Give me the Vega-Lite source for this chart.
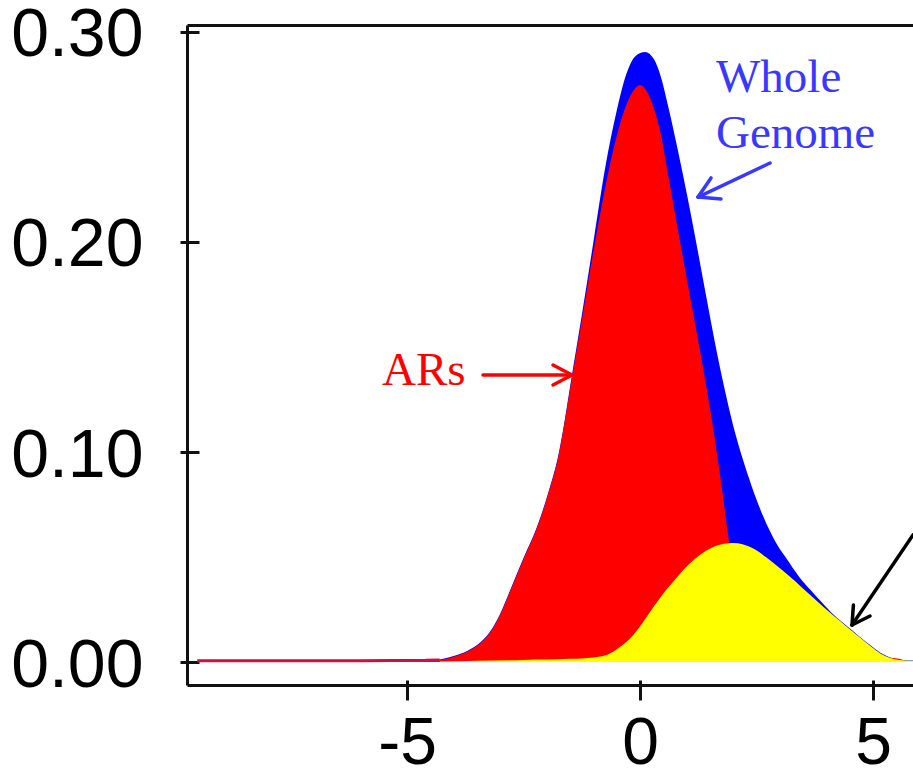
{
  "$schema": "https://vega.github.io/schema/vega-lite/v6.json",
  "width": 726,
  "height": 660,
  "autosize": {"type": "none"},
  "padding": {"left": 187, "top": 25, "right": 0, "bottom": 86},
  "background": "white",
  "config": {"view": {"stroke": null}},
  "datasets": {
    "curves": [
      {"series": "Whole Genome", "x": -9.5, "y": 0.0006},
      {"series": "Whole Genome", "x": -6.0, "y": 0.0006},
      {"series": "Whole Genome", "x": -4.6, "y": 0.0009},
      {"series": "Whole Genome", "x": -4.3, "y": 0.0012},
      {"series": "Whole Genome", "x": -4.0, "y": 0.0028},
      {"series": "Whole Genome", "x": -3.7, "y": 0.0054},
      {"series": "Whole Genome", "x": -3.4, "y": 0.0099},
      {"series": "Whole Genome", "x": -3.2, "y": 0.015},
      {"series": "Whole Genome", "x": -3.0, "y": 0.023},
      {"series": "Whole Genome", "x": -2.8, "y": 0.0335},
      {"series": "Whole Genome", "x": -2.5, "y": 0.0495},
      {"series": "Whole Genome", "x": -2.2, "y": 0.065},
      {"series": "Whole Genome", "x": -1.95, "y": 0.082},
      {"series": "Whole Genome", "x": -1.75, "y": 0.0987},
      {"series": "Whole Genome", "x": -1.6, "y": 0.1172},
      {"series": "Whole Genome", "x": -1.5, "y": 0.1312},
      {"series": "Whole Genome", "x": -1.25, "y": 0.165},
      {"series": "Whole Genome", "x": -1.0, "y": 0.2},
      {"series": "Whole Genome", "x": -0.75, "y": 0.235},
      {"series": "Whole Genome", "x": -0.5, "y": 0.2625},
      {"series": "Whole Genome", "x": -0.3, "y": 0.2795},
      {"series": "Whole Genome", "x": -0.1, "y": 0.2885},
      {"series": "Whole Genome", "x": 0.11, "y": 0.2905},
      {"series": "Whole Genome", "x": 0.3, "y": 0.287},
      {"series": "Whole Genome", "x": 0.45, "y": 0.2785},
      {"series": "Whole Genome", "x": 0.6, "y": 0.265},
      {"series": "Whole Genome", "x": 0.8, "y": 0.245},
      {"series": "Whole Genome", "x": 1.0, "y": 0.2235},
      {"series": "Whole Genome", "x": 1.2, "y": 0.2005},
      {"series": "Whole Genome", "x": 1.4, "y": 0.1765},
      {"series": "Whole Genome", "x": 1.6, "y": 0.153},
      {"series": "Whole Genome", "x": 1.8, "y": 0.1315},
      {"series": "Whole Genome", "x": 2.0, "y": 0.1125},
      {"series": "Whole Genome", "x": 2.2, "y": 0.097},
      {"series": "Whole Genome", "x": 2.4, "y": 0.0835},
      {"series": "Whole Genome", "x": 2.65, "y": 0.069},
      {"series": "Whole Genome", "x": 2.9, "y": 0.0575},
      {"series": "Whole Genome", "x": 3.15, "y": 0.049},
      {"series": "Whole Genome", "x": 3.4, "y": 0.041},
      {"series": "Whole Genome", "x": 3.65, "y": 0.0345},
      {"series": "Whole Genome", "x": 3.9, "y": 0.0285},
      {"series": "Whole Genome", "x": 4.15, "y": 0.0226},
      {"series": "Whole Genome", "x": 4.45, "y": 0.0169},
      {"series": "Whole Genome", "x": 4.7, "y": 0.0123},
      {"series": "Whole Genome", "x": 4.95, "y": 0.0078},
      {"series": "Whole Genome", "x": 5.15, "y": 0.0045},
      {"series": "Whole Genome", "x": 5.35, "y": 0.0023},
      {"series": "Whole Genome", "x": 5.55, "y": 0.0012},
      {"series": "Whole Genome", "x": 5.858, "y": 0.0007},

      {"series": "ARs", "x": -9.5, "y": 0.0006},
      {"series": "ARs", "x": -6.0, "y": 0.0006},
      {"series": "ARs", "x": -4.6, "y": 0.0008},
      {"series": "ARs", "x": -4.3, "y": 0.001},
      {"series": "ARs", "x": -4.0, "y": 0.0025},
      {"series": "ARs", "x": -3.7, "y": 0.005},
      {"series": "ARs", "x": -3.4, "y": 0.0095},
      {"series": "ARs", "x": -3.2, "y": 0.0145},
      {"series": "ARs", "x": -3.0, "y": 0.0225},
      {"series": "ARs", "x": -2.8, "y": 0.033},
      {"series": "ARs", "x": -2.5, "y": 0.049},
      {"series": "ARs", "x": -2.2, "y": 0.0645},
      {"series": "ARs", "x": -1.95, "y": 0.0815},
      {"series": "ARs", "x": -1.75, "y": 0.098},
      {"series": "ARs", "x": -1.6, "y": 0.1165},
      {"series": "ARs", "x": -1.5, "y": 0.13},
      {"series": "ARs", "x": -1.25, "y": 0.1625},
      {"series": "ARs", "x": -1.0, "y": 0.1955},
      {"series": "ARs", "x": -0.75, "y": 0.2255},
      {"series": "ARs", "x": -0.5, "y": 0.2505},
      {"series": "ARs", "x": -0.3, "y": 0.265},
      {"series": "ARs", "x": -0.15, "y": 0.2718},
      {"series": "ARs", "x": 0.0, "y": 0.2748},
      {"series": "ARs", "x": 0.15, "y": 0.2715},
      {"series": "ARs", "x": 0.3, "y": 0.2635},
      {"series": "ARs", "x": 0.45, "y": 0.251},
      {"series": "ARs", "x": 0.6, "y": 0.2325},
      {"series": "ARs", "x": 0.8, "y": 0.2075},
      {"series": "ARs", "x": 1.0, "y": 0.183},
      {"series": "ARs", "x": 1.2, "y": 0.159},
      {"series": "ARs", "x": 1.4, "y": 0.134},
      {"series": "ARs", "x": 1.6, "y": 0.107},
      {"series": "ARs", "x": 1.75, "y": 0.084},
      {"series": "ARs", "x": 1.9, "y": 0.059},
      {"series": "ARs", "x": 2.05, "y": 0.04},
      {"series": "ARs", "x": 2.25, "y": 0.026},
      {"series": "ARs", "x": 2.6, "y": 0.016},
      {"series": "ARs", "x": 3.0, "y": 0.01},
      {"series": "ARs", "x": 3.5, "y": 0.006},
      {"series": "ARs", "x": 4.0, "y": 0.004},
      {"series": "ARs", "x": 4.5, "y": 0.003},
      {"series": "ARs", "x": 5.0, "y": 0.0025},
      {"series": "ARs", "x": 5.35, "y": 0.002},
      {"series": "ARs", "x": 5.55, "y": 0.0015},
      {"series": "ARs", "x": 5.7, "y": 0.0004},

      {"series": "Other", "x": -4.3, "y": 0.0002},
      {"series": "Other", "x": -3.5, "y": 0.0006},
      {"series": "Other", "x": -2.5, "y": 0.001},
      {"series": "Other", "x": -1.5, "y": 0.0015},
      {"series": "Other", "x": -1.0, "y": 0.0022},
      {"series": "Other", "x": -0.7, "y": 0.0035},
      {"series": "Other", "x": -0.45, "y": 0.0068},
      {"series": "Other", "x": -0.2, "y": 0.0115},
      {"series": "Other", "x": 0.05, "y": 0.0185},
      {"series": "Other", "x": 0.3, "y": 0.0265},
      {"series": "Other", "x": 0.55, "y": 0.034},
      {"series": "Other", "x": 0.8, "y": 0.0405},
      {"series": "Other", "x": 1.05, "y": 0.0465},
      {"series": "Other", "x": 1.3, "y": 0.0512},
      {"series": "Other", "x": 1.55, "y": 0.0545},
      {"series": "Other", "x": 1.8, "y": 0.0563},
      {"series": "Other", "x": 2.0, "y": 0.0567},
      {"series": "Other", "x": 2.2, "y": 0.0561},
      {"series": "Other", "x": 2.45, "y": 0.0538},
      {"series": "Other", "x": 2.7, "y": 0.05},
      {"series": "Other", "x": 2.95, "y": 0.0456},
      {"series": "Other", "x": 3.2, "y": 0.0409},
      {"series": "Other", "x": 3.45, "y": 0.036},
      {"series": "Other", "x": 3.7, "y": 0.031},
      {"series": "Other", "x": 3.95, "y": 0.026},
      {"series": "Other", "x": 4.2, "y": 0.0212},
      {"series": "Other", "x": 4.45, "y": 0.0166},
      {"series": "Other", "x": 4.7, "y": 0.012},
      {"series": "Other", "x": 4.95, "y": 0.0075},
      {"series": "Other", "x": 5.15, "y": 0.0042},
      {"series": "Other", "x": 5.35, "y": 0.002},
      {"series": "Other", "x": 5.55, "y": 0.001},
      {"series": "Other", "x": 5.858, "y": 0.0006}
    ],
    "arrows": [
      {"group": "Whole Genome", "x": 2.79, "y": 0.2376, "x2": 1.245, "y2": 0.2214},
      {"group": "Whole Genome", "x": 1.245, "y": 0.2214, "x2": 1.738, "y2": 0.2205},
      {"group": "Whole Genome", "x": 1.245, "y": 0.2214, "x2": 1.524, "y2": 0.2305},
      {"group": "ARs", "x": -3.369, "y": 0.1367, "x2": -1.459, "y2": 0.1367},
      {"group": "ARs", "x": -1.459, "y": 0.1367, "x2": -1.867, "y2": 0.1414},
      {"group": "ARs", "x": -1.459, "y": 0.1367, "x2": -1.867, "y2": 0.1319},
      {"group": "Other", "x": 5.858, "y": 0.0605, "x2": 4.549, "y2": 0.0176},
      {"group": "Other", "x": 4.549, "y": 0.0176, "x2": 4.936, "y2": 0.0219},
      {"group": "Other", "x": 4.549, "y": 0.0176, "x2": 4.579, "y2": 0.0271}
    ],
    "labels": [
      {"group": "Whole Genome", "label": "Whole", "x": 1.63, "y": 0.2714},
      {"group": "Whole Genome", "label": "Genome", "x": 1.63, "y": 0.2448},
      {"group": "ARs", "label": "ARs", "x": -5.536, "y": 0.1319}
    ]
  },
  "resolve": {"axis": {"x": "independent", "y": "independent"}},
  "layer": [
    {
      "data": {"name": "curves"},
      "transform": [{"filter": "datum.series == 'Whole Genome'"}],
      "mark": {"type": "area", "color": "#0000ff", "interpolate": "monotone"},
      "encoding": {
        "x": {"field": "x", "type": "quantitative",
          "scale": {"domain": [-9.721, 5.858], "nice": false, "zero": false},
          "axis": {"orient": "bottom", "offset": -5, "domain": false, "grid": false, "tickSize": 20, "tickWidth": 3, "tickColor": "#111111",
            "values": [-5, 0, 5], "labelExpr": "'' + datum.value", "labelFont": "Liberation Sans", "labelFontSize": 66, "labelColor": "#000000",
            "labelPadding": 11, "labelFlush": false, "labelOverlap": false, "title": null}},
        "y": {"field": "y", "type": "quantitative",
          "scale": {"domain": [-0.01095, 0.30333], "nice": false, "zero": false},
          "axis": {"orient": "left", "offset": -12, "domain": false, "grid": false, "tickSize": 19, "tickWidth": 3, "tickColor": "#111111",
            "values": [0, 0.1, 0.2, 0.3], "format": ".2f", "labelFont": "Liberation Sans", "labelFontSize": 68, "labelColor": "#000000",
            "labelPadding": 37, "labelOffset": 4, "labelFlush": false, "labelOverlap": false, "title": null}}
      }
    },
    {
      "data": {"name": "curves"},
      "transform": [{"filter": "datum.series == 'ARs'"}],
      "mark": {"type": "area", "color": "#ff0000", "interpolate": "monotone"},
      "encoding": {
        "x": {"field": "x", "type": "quantitative",
          "scale": {"domain": [-9.721, 5.858], "nice": false, "zero": false},
          "axis": {"orient": "top", "domain": true, "domainWidth": 3, "domainColor": "#111111", "ticks": false, "labels": false, "grid": false, "title": null}},
        "y": {"field": "y", "type": "quantitative",
          "scale": {"domain": [-0.01095, 0.30333], "nice": false, "zero": false},
          "axis": {"orient": "left", "domain": true, "domainWidth": 3, "domainColor": "#111111", "ticks": false, "labels": false, "grid": false, "title": null}}
      }
    },
    {
      "data": {"name": "curves"},
      "transform": [{"filter": "datum.series == 'Other'"}],
      "mark": {"type": "area", "color": "#ffff00", "interpolate": "monotone"},
      "encoding": {
        "x": {"field": "x", "type": "quantitative",
          "scale": {"domain": [-9.721, 5.858], "nice": false, "zero": false},
          "axis": {"orient": "bottom", "domain": true, "domainWidth": 3, "domainColor": "#111111", "ticks": false, "labels": false, "grid": false, "title": null}},
        "y": {"field": "y", "type": "quantitative",
          "scale": {"domain": [-0.01095, 0.30333], "nice": false, "zero": false}, "axis": null}
      }
    },
    {
      "data": {"name": "curves"},
      "transform": [{"filter": "datum.series == 'ARs' && datum.x < -4.2"}],
      "mark": {"type": "line", "color": "#cc1040", "strokeWidth": 3},
      "encoding": {
        "x": {"field": "x", "type": "quantitative", "scale": {"domain": [-9.721, 5.858], "nice": false, "zero": false}, "axis": null},
        "y": {"field": "y", "type": "quantitative", "scale": {"domain": [-0.01095, 0.30333], "nice": false, "zero": false}, "axis": null}
      }
    },
    {
      "data": {"name": "arrows"},
      "mark": {"type": "rule", "strokeWidth": 3.5, "strokeCap": "round"},
      "encoding": {
        "x": {"field": "x", "type": "quantitative", "scale": {"domain": [-9.721, 5.858], "nice": false, "zero": false}, "axis": null},
        "y": {"field": "y", "type": "quantitative", "scale": {"domain": [-0.01095, 0.30333], "nice": false, "zero": false}, "axis": null},
        "x2": {"field": "x2"},
        "y2": {"field": "y2"},
        "color": {"field": "group", "type": "nominal", "scale": {"domain": ["Whole Genome", "ARs", "Other"], "range": ["#3838ff", "#ff0000", "#000000"]}, "legend": null}
      }
    },
    {
      "data": {"name": "labels"},
      "mark": {"type": "text", "font": "Liberation Serif", "fontSize": 47, "align": "left", "baseline": "alphabetic"},
      "encoding": {
        "x": {"field": "x", "type": "quantitative", "scale": {"domain": [-9.721, 5.858], "nice": false, "zero": false}, "axis": null},
        "y": {"field": "y", "type": "quantitative", "scale": {"domain": [-0.01095, 0.30333], "nice": false, "zero": false}, "axis": null},
        "text": {"field": "label"},
        "color": {"field": "group", "type": "nominal", "scale": {"domain": ["Whole Genome", "ARs", "Other"], "range": ["#3838ff", "#ff0000", "#000000"]}, "legend": null}
      }
    }
  ]
}
